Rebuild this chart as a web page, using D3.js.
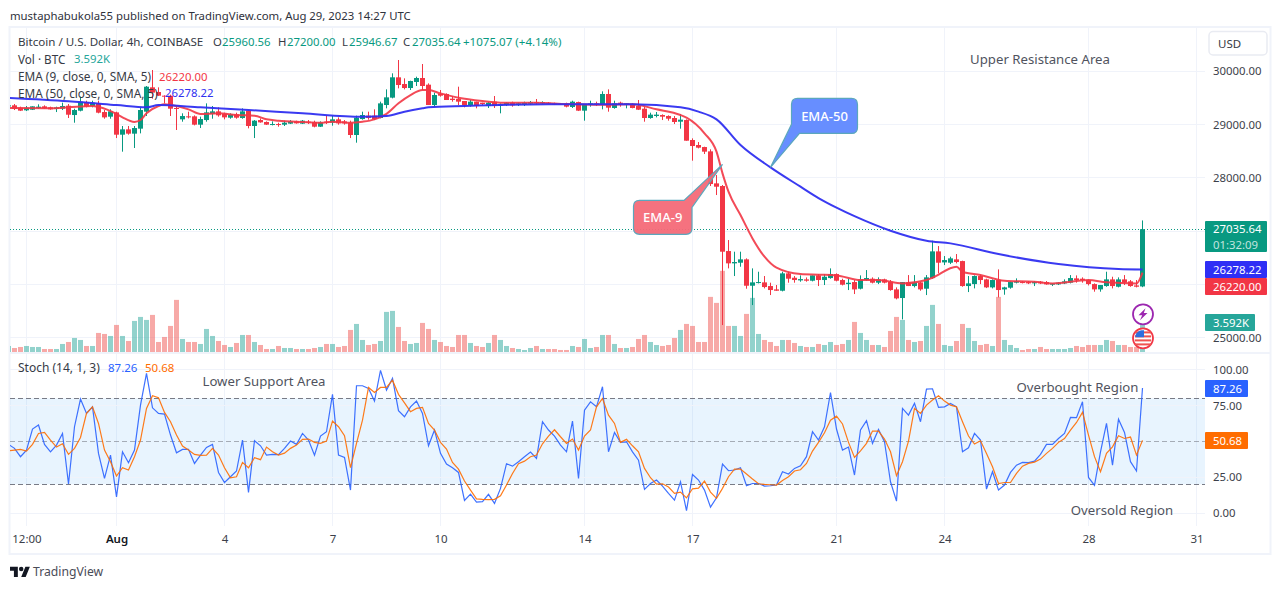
<!DOCTYPE html>
<html>
<head>
<meta charset="utf-8">
<script src="https://cdn.jsdelivr.net/npm/d3@7"></script>
<style>
	html, body { margin: 0; padding: 0; background: #fff; overflow: hidden; }
	text { font-family: "Noto Sans", sans-serif; }
</style>
</head>
<body>
<svg id="chart" width="1281" height="589"></svg>
<script>
// candles, one per 4h bar
const opens = [29340,
	29361,29317,29267,29279,29311,29342,29323,29292,29298,29354,
	29179,29260,29423,29348,29398,29235,29148,29229,28810,28910,
	28829,28923,29242,29699,29611,29542,29542,29311,29098,29154,
	29154,28998,29085,29198,29248,29204,29129,29192,29123,29261,
	28973,29085,29048,28998,29010,28998,29017,29060,29017,29054,
	29048,28960,29054,29035,29098,29060,29035,28804,29104,29167,
	29167,29123,29367,29505,29887,29761,29686,29799,29874,29749,
	29367,29574,29574,29486,29480,29442,29361,29430,29411,29348,
	29430,29355,29367,29411,29367,29373,29392,29423,29398,29411,
	29398,29392,29392,29330,29423,29261,29367,29398,29367,29574,
	29311,29411,29380,29386,29348,29298,29123,29161,29179,29161,
	29123,29054,29085,28710,28616,28578,28497,27896,27846,26625,
	26394,26406,26469,25974,26024,26037,25968,25905,25880,26206,
	26124,26074,26093,26068,26168,26081,26118,26193,26081,26005,
	26043,25918,26081,26106,26031,26093,26049,25905,25743,26037,
	25968,26037,25918,26118,26619,26412,26406,26469,26437,25968,
	26005,26156,26093,25943,26081,25905,25937,26031,26043,26043,
	26018,26049,26043,25993,25999,26018,26031,26112,26106,26081,
	26005,25905,25968,26093,25955,26093,26056,25980,25960.56];
const highs = [29370,
	29386,29336,29348,29342,29380,29361,29336,29336,29411,29386,
	29298,29524,29448,29448,29448,29273,29286,29242,28973,28973,
	28973,29323,29724,30024,29699,29549,29561,29348,29211,29242,
	29173,29148,29398,29348,29323,29223,29211,29223,29304,29273,
	29085,29116,29060,29060,29035,29073,29085,29073,29085,29085,
	29073,29060,29179,29161,29135,29085,29073,29167,29242,29242,
	29286,29430,29661,29962,30212,29868,29824,29899,30137,29774,
	29599,29649,29586,29536,29711,29442,29461,29430,29411,29423,
	29536,29398,29423,29430,29411,29430,29442,29480,29436,29423,
	29411,29405,29411,29448,29430,29367,29448,29430,29624,29661,
	29448,29430,29398,29398,29461,29336,29223,29236,29192,29173,
	29160,29198,29098,28741,28672,28584,28535,28052,27865,26832,
	26613,26613,26488,26300,26237,26156,26031,25987,26237,26237,
	26156,26168,26130,26168,26193,26193,26300,26206,26106,26106,
	26081,26168,26268,26131,26131,26106,26081,25943,26043,26174,
	26174,26049,26174,26819,26719,26531,26519,26569,26444,26156,
	26168,26181,26106,26093,26281,25955,26055,26112,26062,26062,
	26062,26062,26062,26018,26037,26093,26174,26168,26131,26093,
	26018,25987,26237,26143,26131,26174,26081,26081,27200];
const lows = [29340,
	29273,29254,29254,29273,29298,29298,29279,29235,29273,29123,
	29035,29248,29323,29323,29211,29110,29110,28747,28491,28810,
	28560,28835,29161,29486,29536,29398,29161,28898,29054,29116,
	28985,28935,29054,29110,29148,29098,29110,29110,29110,28929,
	28747,29035,28992,28985,28960,28973,29010,29017,29010,29010,
	28948,28954,29010,28979,28998,28998,28747,28660,29092,29092,
	29085,29117,29305,29492,29680,29661,29649,29724,29649,29367,
	29336,29524,29461,29430,29367,29323,29336,29305,29367,29311,
	29311,29211,29348,29336,29348,29348,29367,29373,29380,29386,
	29367,29367,29323,29311,29254,29073,29336,29348,29286,29242,
	29298,29336,29305,29305,29273,29054,29110,29135,29085,29073,
	29010,28923,28697,28322,28553,28447,27846,27677,25236,26300,
	26156,26331,25918,25611,26018,25924,25799,25880,25868,26031,
	26031,26049,26050,26056,25968,25987,26106,26056,25980,25893,
	25818,25905,26068,26018,26005,26018,25880,25718,25342,25968,
	25943,25880,25799,26106,26206,26362,26381,26394,25955,25855,
	25924,26005,25930,25924,25755,25805,25918,26018,26018,26005,
	25968,26005,25993,25968,25987,26005,26018,26031,26031,25980,
	25862,25862,25955,25924,25943,25987,25955,25943,25946.67];
const closes = [29360,
	29292,29261,29317,29342,29336,29304,29286,29323,29348,29185,
	29273,29430,29336,29411,29223,29135,29248,28810,28910,28829,
	28935,29273,29711,29599,29542,29530,29298,29292,29160,29141,
	28998,29104,29229,29248,29173,29135,29192,29129,29248,28973,
	29073,29041,28998,29010,28991,29035,29060,29023,29073,29035,
	28960,29041,29041,29098,29023,29023,28804,29129,29179,29123,
	29104,29398,29511,29887,29743,29686,29818,29874,29724,29367,
	29555,29542,29461,29461,29430,29361,29430,29348,29386,29411,
	29348,29380,29411,29361,29398,29411,29423,29398,29423,29398,
	29373,29373,29336,29430,29261,29367,29398,29367,29574,29317,
	29398,29386,29398,29311,29279,29123,29186,29186,29148,29110,
	29048,29092,28697,28597,28566,28491,27883,27833,26613,26394,
	26419,26469,25974,26037,26043,25949,25893,25880,26206,26106,
	26081,26099,26068,26168,26081,26143,26193,26068,25993,26030,
	25905,26093,26118,26031,26093,26031,25893,25736,26043,25968,
	26037,25905,26131,26619,26406,26456,26488,26419,25968,26018,
	26156,26081,25943,26081,25893,25943,26043,26062,26031,26018,
	26043,26018,25999,26018,26031,26056,26118,26081,26081,26005,
	25905,25987,26093,25968,26093,26031,25968,25955,27035.64];
const volumes = [720,
	480,600,720,600,600,360,360,360,960,1200,
	1680,1440,720,720,2280,2160,1920,3240,1920,1320,
	3720,4200,3840,4440,1200,1800,3120,6240,1560,1200,
	1200,960,2760,1920,1320,840,600,1080,2040,2040,
	1200,840,360,360,720,480,480,360,360,360,
	480,600,960,960,600,720,2640,3360,1440,840,
	960,1320,4800,4920,3000,1320,960,1080,3480,2760,
	1440,1200,720,600,2040,2040,1080,720,600,1080,
	2040,1440,720,480,360,240,480,720,360,360,
	360,240,240,720,600,1560,480,600,2040,2040,
	960,480,480,600,1560,2040,1200,840,720,840,
	1680,2640,3360,3120,1200,1200,6600,5880,9720,3120,
	3120,1920,4560,6480,2160,1440,1200,720,1440,1440,
	1080,720,600,600,960,840,1200,840,960,1440,
	3600,2280,1440,840,840,600,2520,4200,3840,1440,
	1200,1320,3120,5640,3360,840,720,1320,3360,2880,
	1320,840,960,720,6600,1440,840,480,240,360,
	360,600,360,360,360,360,480,720,600,840,
	840,840,1440,1320,840,840,600,600,3592];
const stochK = [47.9,
	45.1,39.3,43.9,58.6,61.4,47.9,42.7,47.4,55.5,20.2,
	60.2,79.5,69.5,74.1,41.6,24.1,40.4,11.3,42.7,35.1,
	43.9,75.3,97.4,73.4,69.5,69.0,54.4,42.0,44.4,44.4,
	34.6,40.4,45.8,47.9,28.3,21.3,25.3,29.3,50.9,14.4,
	50.4,46.9,40.4,40.9,40.7,45.1,50.2,47.9,55.5,50.9,
	40.4,53.7,56.7,82.8,40.4,38.8,16.0,88.8,88.8,86.9,
	78.1,99.5,85.8,93.9,71.4,67.2,74.1,78.1,69.5,46.9,
	57.9,41.6,34.1,31.6,28.3,8.8,13.2,7.6,7.9,13.0,
	6.7,17.2,34.4,32.7,35.8,39.3,42.5,38.1,63.7,57.9,
	53.7,47.4,42.7,64.1,24.1,71.8,77.6,74.1,88.1,42.7,
	56.2,49.3,49.7,42.7,36.9,16.5,20.6,23.0,18.8,13.7,
	9.0,21.8,1.6,26.9,23.0,16.0,4.1,10.6,34.1,29.5,
	30.0,31.6,19.0,20.6,20.6,18.8,19.0,19.5,28.8,27.2,
	31.1,33.0,39.3,56.7,50.9,60.2,84.1,58.6,43.9,46.0,
	26.5,57.9,64.4,48.6,58.3,49.7,21.8,8.3,73.0,68.3,
	76.5,63.7,86.5,86.7,73.7,74.1,76.5,74.1,42.7,45.5,
	55.5,50.9,16.7,28.8,16.0,19.5,28.3,33.4,35.3,35.1,
	36.2,40.9,47.9,47.9,52.0,55.5,66.7,66.5,77.6,24.8,
	19.3,42.7,62.5,33.4,65.5,56.2,35.8,29.3,87.26];
const stochD = [43.4,
	43.9,44.4,43.2,47.9,55.5,56.2,50.9,46.0,48.3,40.9,
	45.1,52.7,69.5,74.1,62.5,43.9,35.8,25.8,31.6,30.0,
	39.3,50.9,73.0,81.8,80.4,70.2,63.7,54.4,46.7,43.9,
	40.9,40.2,40.4,45.1,40.4,31.6,24.6,25.3,35.3,31.6,
	38.6,37.2,46.0,42.7,40.4,41.8,45.1,47.4,51.4,51.6,
	49.3,48.6,50.2,64.1,60.2,53.9,31.6,48.6,64.8,87.6,
	84.1,87.6,87.6,92.7,82.8,76.9,70.7,73.0,73.7,62.5,
	57.9,49.3,44.6,35.3,30.6,22.3,16.0,9.9,9.5,9.3,
	9.5,12.0,19.5,27.6,34.4,36.2,39.3,40.4,48.3,53.7,
	58.1,53.2,48.6,51.6,43.9,53.7,57.9,74.1,79.9,68.3,
	62.5,49.3,51.4,46.9,42.7,31.1,24.6,20.2,20.4,18.1,
	13.7,14.6,10.6,16.9,17.4,22.3,14.6,10.2,17.2,25.3,
	30.6,30.6,27.2,23.7,20.4,20.0,19.7,19.5,22.7,25.3,
	29.3,30.2,34.6,43.2,49.3,56.0,64.8,67.6,62.1,49.3,
	38.8,43.4,48.6,57.2,57.2,51.6,42.7,26.0,35.8,50.2,
	73.0,69.5,75.3,78.8,81.8,78.1,75.3,74.1,63.7,53.7,
	48.1,50.4,41.6,32.3,20.6,21.3,21.3,27.6,32.7,34.6,
	35.5,37.6,41.6,45.1,49.3,52.0,57.9,63.2,70.2,54.4,
	39.3,28.8,41.6,46.2,53.9,52.0,53.0,40.4,50.68];

// EMA lines, readings at the bars listed
const ema9Bars = [0,7,10,14,15,18,19,21,22,23,25,26,28,30,32,35,38,41,43,45,49,52,54,57,59,61,63,65,67,69,70,72,75,79,82,88,93,99,104,108,112,113,116,118,119,120,122,124,126,128,132,135,138,142,145,149,153,154,158,159,162,166,171,174,180,183,188,189];
const ema9Values = [29311,29305,29323,29348,29330,29200,29135,29048,29085,29211,29348,29380,29348,29286,29198,29211,29179,29167,29098,29072,29048,29035,29054,29035,29054,29098,29200,29400,29555,29649,29649,29585,29505,29442,29411,29411,29386,29373,29380,29286,29179,29130,28835,28491,28084,27740,27301,26863,26519,26312,26193,26181,26168,26081,26081,26018,26081,26124,26331,26237,26175,26068,26049,26018,26081,26037,26018,26220];
const ema50Bars = [0,10,18,23,25,32,40,49,59,63,66,69,70,76,90,104,112,115,118,122,127,132,135,138,141,147,153,157,165,175,185,189];
const ema50Values = [29498,29436,29367,29323,29367,29323,29273,29211,29148,29161,29242,29305,29323,29348,29380,29380,29323,29242,29098,28616,28196,27833,27620,27440,27280,27007,26819,26769,26569,26381,26287,26278.22];

// axes
const priceGrid = [25000,26000,27000,28000,29000,30000];
const priceTicks = [25000,28000,29000,30000];
const stochGrid = [0,25,75,100];
const stochLevels = [20,50,80];
const timeBars = [3,18,36,54,72,96,114,138,156,180,198];
const timeLabels = ['12:00','Aug','4','7','10','14','17','21','24','28','31'];

const green = '#089981', red = '#f23645', blueEma = '#2f2ff0';
const gridColor = '#f0f3fa', frameColor = '#f0f3fa', textColor = '#363a45';
const noteColor = '#50535e';
const numSize = 11.35;

const svg = d3.select('#chart');

const x = d3.scaleLinear().domain([0, 198]).range([8.5, 1196.5]);
const yPrice = d3.scaleLinear().domain([25000, 30000]).range([337.6, 71.3]);
const yVol = d3.scaleLinear().domain([0, 3592]).range([352, 322]);
const yStoch = d3.scaleLinear().domain([0, 100]).range([513, 369.7]);

const defs = svg.append('defs');
defs.append('clipPath').attr('id', 'clipTop').append('rect')
	.attr('x', 10).attr('y', 28).attr('width', 1195).attr('height', 324);
defs.append('clipPath').attr('id', 'clipBottom').append('rect')
	.attr('x', 10).attr('y', 354).attr('width', 1195).attr('height', 172);

// frame + separator
svg.append('rect')
	.attr('x', 9.5).attr('y', 27).attr('width', 1261).attr('height', 527)
	.attr('fill', 'none').attr('stroke', frameColor).attr('stroke-width', 2);
svg.append('line')
	.attr('x1', 10).attr('x2', 1270).attr('y1', 353).attr('y2', 353)
	.attr('stroke', frameColor).attr('stroke-width', 2);

// grid
const crisp = v => Math.floor(v) + 0.5;
svg.append('g').selectAll('line').data(timeBars).join('line')
	.attr('x1', d => x(d)).attr('x2', d => x(d))
	.attr('y1', 28).attr('y2', 526)
	.attr('stroke', gridColor);
svg.append('g').selectAll('line').data(priceGrid).join('line')
	.attr('x1', 10).attr('x2', 1205)
	.attr('y1', d => crisp(yPrice(d))).attr('y2', d => crisp(yPrice(d)))
	.attr('stroke', gridColor);

// stochastic band sits under its grid
svg.append('rect')
	.attr('x', 10).attr('width', 1195)
	.attr('y', yStoch(80)).attr('height', yStoch(20) - yStoch(80))
	.attr('fill', '#2196f3').attr('fill-opacity', 0.1);
svg.append('g').selectAll('line').data(stochGrid).join('line')
	.attr('x1', 10).attr('x2', 1205)
	.attr('y1', d => crisp(yStoch(d))).attr('y2', d => crisp(yStoch(d)))
	.attr('stroke', gridColor);
svg.append('g').selectAll('line').data(stochLevels).join('line')
	.attr('x1', 10).attr('x2', 1205)
	.attr('y1', d => crisp(yStoch(d))).attr('y2', d => crisp(yStoch(d)))
	.attr('stroke', '#787b86').attr('stroke-opacity', d => d === 50 ? 0.6 : 1)
	.attr('stroke-dasharray', '5 3');

// candles + volume
const bars = opens.map((o, i) => ({ i, o, h: highs[i], l: lows[i], c: closes[i], v: volumes[i], up: closes[i] >= o }));
const paneTop = svg.append('g').attr('clip-path', 'url(#clipTop)');

paneTop.append('line')
	.attr('x1', 10).attr('x2', 1205)
	.attr('y1', crisp(yPrice(closes[closes.length - 1]))).attr('y2', crisp(yPrice(closes[closes.length - 1])))
	.attr('stroke', green).attr('stroke-dasharray', '1 2');

paneTop.append('g').selectAll('rect').data(bars).join('rect')
	.attr('x', d => x(d.i) - 2.5).attr('width', 5)
	.attr('y', d => yVol(d.v)).attr('height', d => yVol(0) - yVol(d.v))
	.attr('fill', d => d.up ? '#26a69a' : '#ef5350').attr('fill-opacity', 0.5);

paneTop.append('g').selectAll('rect').data(bars).join('rect')
	.attr('x', d => x(d.i) - 0.5).attr('width', 1)
	.attr('y', d => yPrice(d.h)).attr('height', d => yPrice(d.l) - yPrice(d.h))
	.attr('fill', d => d.up ? green : red);
paneTop.append('g').selectAll('rect').data(bars).join('rect')
	.attr('x', d => x(d.i) - 2.5).attr('width', 5)
	.attr('y', d => yPrice(Math.max(d.o, d.c)))
	.attr('height', d => Math.max(1, Math.abs(yPrice(d.o) - yPrice(d.c))))
	.attr('fill', d => d.up ? green : red);

const priceLine = d3.line().x(d => x(d[0])).y(d => yPrice(d[1])).curve(d3.curveMonotoneX);
paneTop.append('path').datum(d3.zip(ema9Bars, ema9Values))
	.attr('d', priceLine).attr('fill', 'none')
	.attr('stroke', red).attr('stroke-width', 2).attr('stroke-opacity', 0.9);
paneTop.append('path').datum(d3.zip(ema50Bars, ema50Values))
	.attr('d', priceLine).attr('fill', 'none')
	.attr('stroke', blueEma).attr('stroke-width', 2).attr('stroke-opacity', 0.95);

// stochastic
const stochLine = d3.line().x((d, i) => x(i)).y(d => yStoch(d));
const paneBottom = svg.append('g').attr('clip-path', 'url(#clipBottom)');
paneBottom.append('path').datum(stochK).attr('d', stochLine)
	.attr('fill', 'none').attr('stroke', '#2962ff').attr('stroke-width', 1.2).attr('stroke-opacity', 0.9);
paneBottom.append('path').datum(stochD).attr('d', stochLine)
	.attr('fill', 'none').attr('stroke', '#ff6d00').attr('stroke-width', 1.2).attr('stroke-opacity', 0.9);

// axes
function styleAxis(g, size) {
	g.select('.domain').remove();
	g.selectAll('text').attr('fill', '#3c3f4a').attr('font-size', size)
		.style('font-family', '"Noto Sans", sans-serif');
}
svg.append('g').attr('transform', 'translate(1213,0)')
	.call(d3.axisRight(yPrice).tickValues(priceTicks).tickSize(0).tickPadding(0).tickFormat(d3.format('.2f')))
	.call(styleAxis, numSize);
svg.append('g').attr('transform', 'translate(1213,0)')
	.call(d3.axisRight(yStoch).tickValues([0, 25, 75, 100]).tickSize(0).tickPadding(0).tickFormat(d3.format('.2f')))
	.call(styleAxis, numSize);
const timeAxis = svg.append('g').attr('transform', 'translate(0,535)')
	.call(d3.axisBottom(x).tickValues(timeBars).tickSize(0).tickPadding(0).tickFormat((d, i) => timeLabels[i]))
	.call(styleAxis, 11.5);
timeAxis.selectAll('text').filter(t => t === 18).attr('font-weight', 600).attr('fill', '#131722');

// text helper
function label(str, tx, ty, opts = {}) {
	return svg.append('text').attr('x', tx).attr('y', ty).text(str)
		.attr('font-size', opts.size || numSize)
		.attr('fill', opts.fill || textColor)
		.attr('text-anchor', opts.anchor || 'start')
		.attr('dominant-baseline', 'central')
		.attr('font-weight', opts.weight || 400);
}

label('mustaphabukola55 published on TradingView.com, Aug 29, 2023 14:27 UTC', 10, 15, { fill: '#2f323c' });

label('Bitcoin / U.S. Dollar, 4h, COINBASE', 18, 41.5, { size: 11.6 });
[['O', '25960.56', 213], ['H', '27200.00', 278], ['L', '25946.67', 342], ['C', '27035.64', 403]].forEach(d => {
	label(d[0], d[2], 41.5);
	label(d[1], d[2] + (d[0] === 'L' ? 7 : 9), 41.5, { fill: green });
});
label('+1075.07 (+4.14%)', 463, 41.5, { fill: green, size: 11.55 });
label('Vol · BTC', 18, 58.7, { size: 11.7 });
label('3.592K', 74, 58.7, { fill: '#26a69a' });
label('EMA (9, close, 0, SMA, 5)', 18, 76, { size: 11.8 });
label('26220.00', 159, 76, { fill: red });
label('EMA (50, close, 0, SMA, 5)', 18, 92.7, { size: 11.8 });
label('26278.22', 165, 92.7, { fill: blueEma });
label('Stoch (14, 1, 3)', 18, 367.7, { size: 12 });
label('87.26', 108, 367.7, { fill: '#2962ff', size: 11.5 });
label('50.68', 145, 367.7, { fill: '#ff6d00', size: 11.5 });

// notes written on the chart
label('Upper Resistance Area', 1040, 59, { size: 13.2, fill: noteColor, anchor: 'middle' });
label('Lower Support Area', 264, 381, { size: 13.2, fill: noteColor, anchor: 'middle' });
label('Overbought Region', 1077.5, 387, { size: 13.2, fill: noteColor, anchor: 'middle' });
label('Oversold Region', 1122, 510, { size: 13.2, fill: noteColor, anchor: 'middle' });

// callouts, tail tip sits on the line
function callout(text, tipBar, tipPrice, box, base, fill) {
	const tx = x(tipBar), ty = yPrice(tipPrice);
	const r = 6;
	const left = tx + box.dx, boxTop = ty + box.dy, right = left + box.w, boxBottom = boxTop + box.h;
	const p = d3.path();
	p.moveTo(left + r, boxTop);
	if (box.side === 'topright') {
		p.lineTo(right - base[0], boxTop);
		p.lineTo(tx, ty);
		p.lineTo(right, boxTop + base[1]);
	} else {
		p.lineTo(right - r, boxTop);
		p.quadraticCurveTo(right, boxTop, right, boxTop + r);
	}
	p.lineTo(right, boxBottom - r);
	p.quadraticCurveTo(right, boxBottom, right - r, boxBottom);
	if (box.side === 'bottomleft') {
		p.lineTo(left + base[1], boxBottom);
		p.lineTo(tx, ty);
		p.lineTo(left, boxBottom - base[0]);
	} else {
		p.lineTo(left + r, boxBottom);
		p.quadraticCurveTo(left, boxBottom, left, boxBottom - r);
	}
	p.lineTo(left, boxTop + r);
	p.quadraticCurveTo(left, boxTop, left + r, boxTop);
	p.closePath();
	svg.append('path').attr('d', p.toString())
		.attr('fill', fill).attr('fill-opacity', 0.95)
		.attr('stroke', '#5ba7bd').attr('stroke-width', 1.2);
	label(text, (left + right) / 2, (boxTop + boxBottom) / 2, { size: 13, fill: '#fff', anchor: 'middle', weight: 500 });
}
callout('EMA-50', 127, 28196, { dx: 21, dy: -69, w: 66, h: 35, side: 'bottomleft' }, [9, 8], '#5f88ff');
callout('EMA-9', 119, 28253, { dx: -89, dy: 36, w: 58.5, h: 34, side: 'topright' }, [8, 7], '#f46a78');

// price tags
function tag(tx, ty, w, h, fill) {
	svg.append('rect').attr('x', tx).attr('y', ty).attr('width', w).attr('height', h)
		.attr('rx', 1).attr('fill', fill);
}
tag(1205, 221, 62, 31, green);
label('27035.64', 1213, 228.5, { fill: '#fff' });
label('01:32:09', 1213, 244, { fill: '#fff' }).attr('fill-opacity', 0.75);
tag(1205, 261, 62, 17, '#2f2ff5');
label('26278.22', 1213, 269.5, { fill: '#fff' });
tag(1205, 278, 62, 17, red);
label('26220.00', 1213, 286.5, { fill: '#fff' });
tag(1205, 314, 50, 17, '#26a69a');
label('3.592K', 1213, 322.5, { fill: '#fff' });
tag(1205, 380, 43, 17, '#2962ff');
label('87.26', 1213, 388.5, { fill: '#fff' });
tag(1205, 432, 43, 17, '#ff6d00');
label('50.68', 1213, 440.5, { fill: '#fff' });

// USD button
svg.append('rect').attr('x', 1209).attr('y', 31.5).attr('width', 58).attr('height', 23.5)
	.attr('rx', 4).attr('fill', '#fff').attr('stroke', '#e9ebf2').attr('stroke-width', 1.5);
label('USD', 1218, 43.5, { size: 11.5 });

// chart event badges on the last bar
const badgeX = x(opens.length - 1) + 0.5;
const bolt = svg.append('g').attr('transform', `translate(${badgeX},314.3)`);
bolt.append('circle').attr('r', 10).attr('fill', '#fff').attr('stroke', '#9c27b0').attr('stroke-width', 1.8);
bolt.append('path').attr('d', 'M2.5,-6 L-4.5,1 L-0.8,1 L-3,6 L4.5,-1.2 L0.8,-1.2 Z').attr('fill', '#9c27b0');

const flag = svg.append('g').attr('transform', `translate(${badgeX},338.3)`);
flag.append('circle').attr('r', 10).attr('fill', '#fff').attr('stroke', red).attr('stroke-width', 1.8);
[-6, -2, 2, 6].forEach(dy => {
	flag.append('rect').attr('x', -8).attr('y', dy - 0.9).attr('width', 16).attr('height', 2).attr('fill', '#ef5350');
});
flag.append('path').attr('d', 'M-7.5,-1 L-7.5,-3 A8,8 0 0 1 -1.5,-8 L1,-8 L1,-1 Z').attr('fill', '#2f6fde');

// logo
const logo = svg.append('g').attr('transform', 'translate(10,564.6) scale(0.56)').attr('fill', '#131722');
logo.append('path').attr('d', 'M14 22H7V11H0V4h14v18zM28 22h-8l7.5-18h8L28 22z');
logo.append('circle').attr('cx', 20).attr('cy', 8).attr('r', 4);
label('TradingView', 33, 571.5, { size: 12.2, fill: '#4a4c57' });
</script>
</body>
</html>
